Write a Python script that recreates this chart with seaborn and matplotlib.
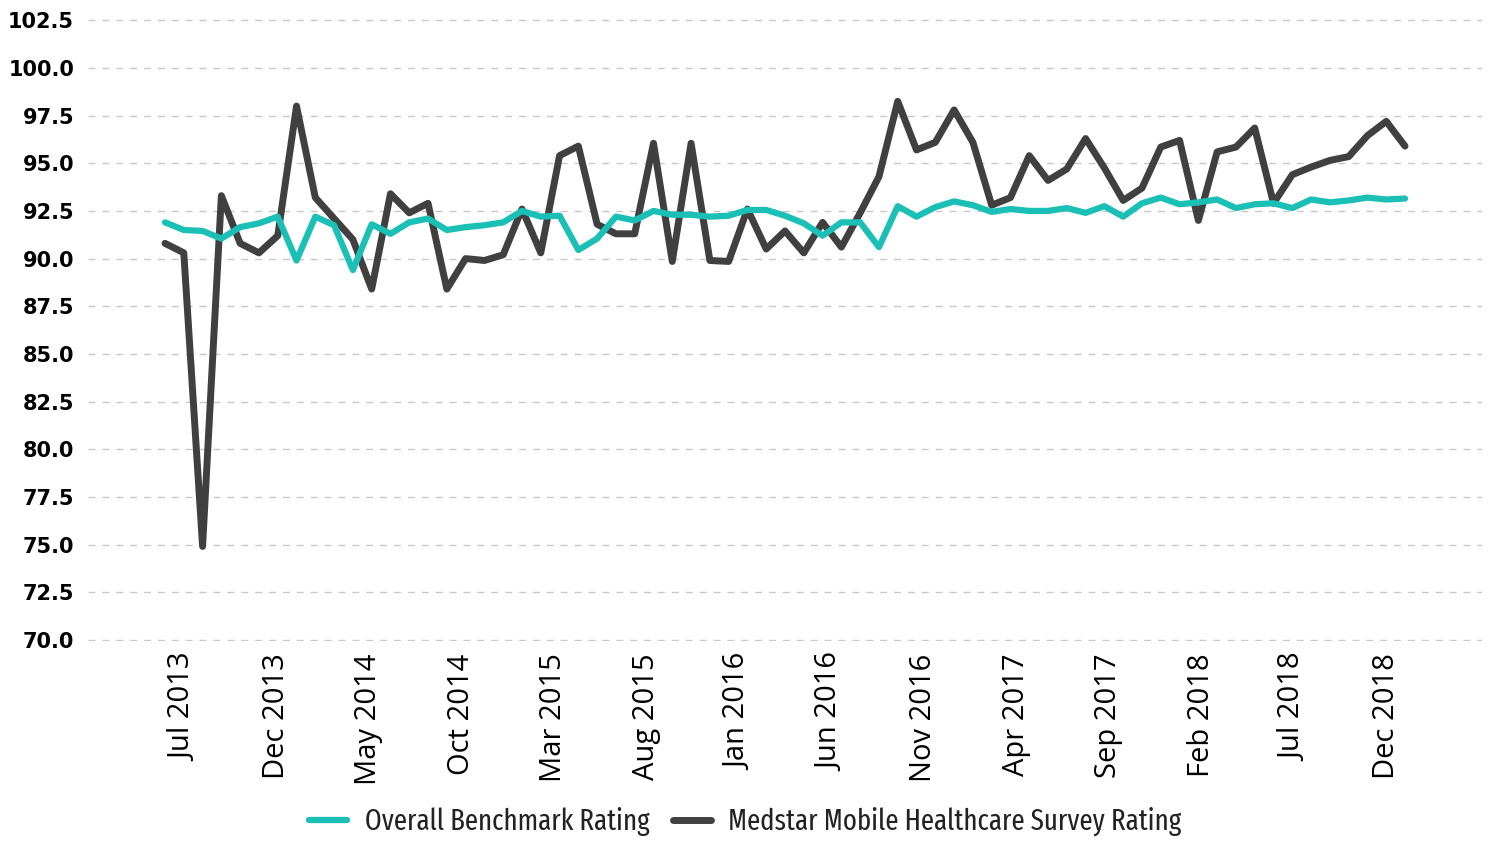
import matplotlib
matplotlib.use("Agg")
import matplotlib.pyplot as plt
import seaborn as sns
import numpy as np
import pandas as pd

# monthly ratings, Jun 2013 onwards (67 survey months)
benchmark = [
    91.9, 91.5, 91.45, 91.05, 91.65, 91.85, 92.2, 89.9, 92.2, 91.75,
    89.4, 91.8, 91.3, 91.9, 92.1, 91.5, 91.65, 91.75, 91.9, 92.5,
    92.2, 92.25, 90.45, 91.05, 92.2, 92.0, 92.5, 92.3, 92.3, 92.2,
    92.25, 92.55, 92.55, 92.25, 91.85, 91.2, 91.9, 91.9, 90.6, 92.75,
    92.2, 92.7, 93.0, 92.8, 92.45, 92.6, 92.5, 92.5, 92.65, 92.4,
    92.75, 92.2, 92.9, 93.2, 92.85, 92.95, 93.1, 92.65, 92.85, 92.9,
    92.65, 93.1, 92.95, 93.05, 93.2, 93.1, 93.15,
]
medstar = [
    90.8, 90.3, 74.9, 93.3, 90.8, 90.3, 91.2, 98.0, 93.2, 92.1,
    91.0, 88.4, 93.4, 92.4, 92.9, 88.4, 90.0, 89.9, 90.2, 92.6,
    90.3, 95.4, 95.9, 91.8, 91.3, 91.3, 96.05, 89.85, 96.05, 89.9,
    89.85, 92.6, 90.5, 91.45, 90.3, 91.9, 90.6, 92.4, 94.3, 98.25,
    95.7, 96.1, 97.8, 96.1, 92.8, 93.2, 95.4, 94.1, 94.7, 96.3,
    94.75, 93.05, 93.7, 95.85, 96.2, 92.0, 95.6, 95.85, 96.85, 92.9,
    94.4, 94.8, 95.15, 95.35, 96.45, 97.2, 95.9,
]
tick_labels = [
    "Jul 2013", "Dec 2013", "May 2014", "Oct 2014", "Mar 2015", "Aug 2015",
    "Jan 2016", "Jun 2016", "Nov 2016", "Apr 2017", "Sep 2017", "Feb 2018",
    "Jul 2018", "Dec 2018",
]
y_ticks = np.arange(70, 102.6, 2.5)

teal = "#1abfb5"
dark = "#404040"

df = pd.DataFrame({
    "month": np.arange(len(benchmark)),
    "Overall Benchmark Rating": benchmark,
    "Medstar Mobile Healthcare Survey Rating": medstar,
})

sns.set_style("white")

fig, ax = plt.subplots(figsize=(14.91, 8.42), dpi=100)
fig.subplots_adjust(left=0.059, right=0.994, top=0.977, bottom=0.239)

# dark series first so the teal line sits on top
sns.lineplot(data=df, x="month", y="Medstar Mobile Healthcare Survey Rating",
             color=dark, lw=5, solid_capstyle="round", ax=ax,
             label="Medstar Mobile Healthcare Survey Rating")
sns.lineplot(data=df, x="month", y="Overall Benchmark Rating",
             color=teal, lw=4.5, solid_capstyle="round", ax=ax,
             label="Overall Benchmark Rating")

ax.set_xlim(-4.1, 70.1)
ax.set_ylim(69.95, 102.55)
ax.set_xlabel("")
ax.set_ylabel("")

# labels are spread evenly between the Jul 2013 and Dec 2018 points
ax.set_xticks(np.linspace(1, 65, len(tick_labels)))
ax.set_xticklabels(tick_labels, rotation=90, fontsize=21,
                   family=["Open Sans", "DejaVu Sans"], color="black")
ax.set_yticks(y_ticks)
ax.set_yticklabels([f"{v:.1f}" for v in y_ticks], fontsize=15,
                   fontweight="bold", family="DejaVu Sans", color="black")
ax.tick_params(axis="both", length=0)
ax.tick_params(axis="y", pad=10)
ax.tick_params(axis="x", pad=9)

ax.grid(axis="y", color="#c8c8c8", lw=1, linestyle=(0, (5, 5)))
ax.grid(axis="x", visible=False)
sns.despine(ax=ax, left=True, bottom=True)

handles, labels = ax.get_legend_handles_labels()
ax.get_legend().remove()
fig.legend(handles[::-1], labels[::-1], loc="center", bbox_to_anchor=(0.5, 0.024),
           ncol=2, frameon=False, handlelength=1.3, handletextpad=0.6,
           columnspacing=0.8, labelcolor="#222222",
           prop={"family": ["Fira Sans Extra Condensed", "Fira Sans Condensed",
                            "DejaVu Sans"],
                 "size": 21})

fig.savefig("out.png", dpi=100)
